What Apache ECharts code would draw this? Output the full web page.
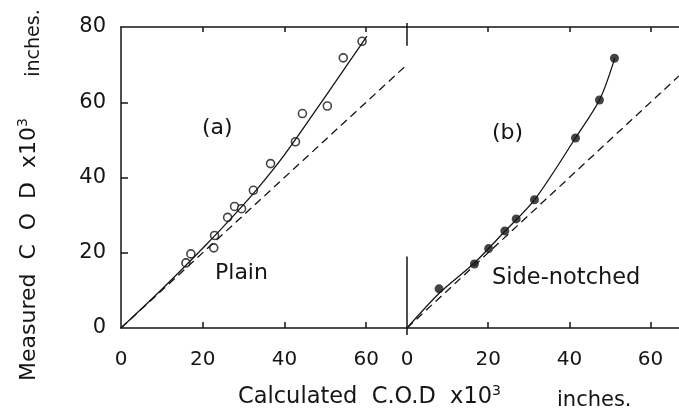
<!DOCTYPE html>
<html>
<head>
<meta charset="utf-8" />
<title>COD chart</title>
<script src="https://cdn.jsdelivr.net/npm/echarts@6/dist/echarts.min.js"></script>
<style>
  html, body { margin: 0; padding: 0; background: #fff; }
  #chart { width: 679px; height: 416px; }
</style>
</head>
<body>
<div id="chart"></div>
<script>
// tick labels
var xTicks = [0, 20, 40, 60];
var yTicks = [0, 20, 40, 60, 80];
var innerTicks = [20, 40, 60];

// (a) plain specimens - open circles
var plainCalc = [15.9, 17.1, 22.7, 22.9, 26.1, 27.8, 29.5, 32.4, 36.6, 42.7, 44.4, 50.5, 54.4, 59.0];
var plainMeas = [17.3, 19.7, 21.3, 24.6, 29.4, 32.3, 31.7, 36.6, 43.7, 49.5, 57.0, 59.0, 71.8, 76.2];
// hand drawn curve through (a)
var plainCurveX = [0, 10, 20, 27, 33, 40, 50, 60.2];
var plainCurveY = [0, 10.3, 21.2, 29.2, 36.5, 46, 61.5, 77.6];

// (b) side-notched specimens - filled circles
var notchCalc = [7.9, 16.6, 20.1, 24.1, 26.9, 31.4, 41.5, 47.4, 51.1];
var notchMeas = [10.4, 17.0, 21.1, 25.8, 29.0, 34.1, 50.5, 60.6, 71.7];
var notchCurveX = [0, 8, 16.5, 24, 31.5, 41.5, 47.5, 51.2];
var notchCurveY = [0, 9.3, 17.2, 25.6, 34.2, 50.5, 60.8, 71.8];

// 1:1 line (measured = calculated)
var equalA = [0, 70];
var equalB = [0, 67];

function pairs(xs, ys) {
	return xs.map(function (x, i) { return [x, ys[i]]; });
}

var font = 'DejaVu Sans';
var ink = '#151515';
var supStyle = { fontSize: 14, fontFamily: font, verticalAlign: 'top', lineHeight: 14 };

function bottomAxis(grid, max) {
	return {
		type: 'value', gridIndex: grid, position: 'bottom', min: 0, max: max, interval: 20,
		axisLine: { show: true, lineStyle: { color: ink, width: 1.5 } },
		axisTick: { show: true, inside: true, length: 6, customValues: innerTicks, lineStyle: { color: ink, width: 1.5 } },
		axisLabel: { customValues: xTicks, margin: 22, fontSize: 20, color: ink, fontFamily: font },
		splitLine: { show: false }
	};
}
function topAxis(grid, max) {
	return {
		type: 'value', gridIndex: grid, position: 'top', min: 0, max: max, interval: 20,
		axisLine: { show: true, lineStyle: { color: ink, width: 1.5 } },
		axisTick: { show: true, inside: true, length: 5, customValues: innerTicks, lineStyle: { color: ink, width: 1.5 } },
		axisLabel: { show: false },
		splitLine: { show: false }
	};
}
// short outer stubs of the divider between the panels
function stubAxis(pos, len) {
	return {
		type: 'value', gridIndex: 1, position: pos, min: 0, max: equalB[1],
		axisLine: { show: false },
		axisTick: { show: true, inside: false, length: len, customValues: [0], lineStyle: { color: ink, width: 1.5 } },
		axisLabel: { show: false },
		splitLine: { show: false }
	};
}

var chart = echarts.init(document.getElementById('chart'), null, { renderer: 'canvas' });
chart.setOption({
	backgroundColor: '#fff',
	animation: false,
	grid: [
		{ left: 121, top: 27, width: 286, height: 301 },
		{ left: 407, top: 27, width: 272, height: 301 }
	],
	xAxis: [
		bottomAxis(0, equalA[1]),
		topAxis(0, equalA[1]),
		bottomAxis(1, equalB[1]),
		topAxis(1, equalB[1]),
		stubAxis('bottom', 7),
		stubAxis('top', 4)
	],
	yAxis: [
		{
			type: 'value', gridIndex: 0, min: 0, max: 80, interval: 20,
			axisLine: { show: true, lineStyle: { color: ink, width: 1.5 } },
			axisTick: { show: true, inside: true, length: 7, customValues: innerTicks, lineStyle: { color: ink, width: 1.5 } },
			axisLabel: { customValues: yTicks, margin: 15, fontSize: 21, color: ink, fontFamily: font },
			splitLine: { show: false }
		},
		{
			type: 'value', gridIndex: 1, min: 0, max: 80, show: false
		}
	],
	graphic: [
		{ type: 'text', left: 202, top: 117, style: { text: '(a)', font: '22px "DejaVu Sans"', fill: ink } },
		{ type: 'text', left: 492, top: 122, style: { text: '(b)', font: '22px "DejaVu Sans"', fill: ink } },
		{ type: 'text', left: 215, top: 262, style: { text: 'Plain', font: '22px "DejaVu Sans"', fill: ink } },
		{ type: 'text', left: 492, top: 267, style: { text: 'Side-notched', font: '22.5px "DejaVu Sans"', fill: ink } },
		{
			type: 'text', x: 29, y: 381, rotation: Math.PI / 2,
			style: {
				text: 'Measured  C  O  D  x10{s|3}', font: '22px "DejaVu Sans"', fill: ink,
				align: 'left', verticalAlign: 'middle', lineHeight: 26, rich: { s: supStyle }
			}
		},
		{
			type: 'text', x: 34, y: 43, rotation: Math.PI / 2,
			style: { text: 'inches.', font: '19px "DejaVu Sans"', fill: ink, align: 'center', verticalAlign: 'middle' }
		},
		{
			type: 'text', x: 238, y: 397,
			style: {
				text: 'Calculated  C.O.D  x10{s|3}', font: '22.5px "DejaVu Sans"', fill: ink,
				verticalAlign: 'middle', lineHeight: 26, rich: { s: supStyle }
			}
		},
		{
			type: 'text', x: 557, y: 401,
			style: { text: 'inches.', font: '21px "DejaVu Sans"', fill: ink, verticalAlign: 'middle' }
		}
	],
	series: [
		{
			name: 'Plain 1:1', type: 'line', xAxisIndex: 0, yAxisIndex: 0,
			data: pairs(equalA, equalA), symbol: 'none', silent: true,
			lineStyle: { color: ink, width: 1.3, type: [8, 5] }
		},
		{
			name: 'Plain curve', type: 'line', xAxisIndex: 0, yAxisIndex: 0,
			data: pairs(plainCurveX, plainCurveY), smooth: 0.3, symbol: 'none', silent: true,
			lineStyle: { color: ink, width: 1.3 }
		},
		{
			name: 'Plain', type: 'scatter', xAxisIndex: 0, yAxisIndex: 0,
			data: pairs(plainCalc, plainMeas), symbol: 'circle', symbolSize: 8,
			itemStyle: { color: '#fff', borderColor: ink, borderWidth: 1.6 }
		},
		{
			name: 'Side-notched 1:1', type: 'line', xAxisIndex: 2, yAxisIndex: 1,
			data: pairs(equalB, equalB), symbol: 'none', silent: true,
			lineStyle: { color: ink, width: 1.3, type: [8, 5] },
			markLine: {
				silent: true, symbol: 'none', label: { show: false },
				lineStyle: { color: ink, width: 1.5, type: 'solid' },
				data: [
					[{ coord: [0, 0] }, { coord: [0, 19] }],
					[{ coord: [0, 75] }, { coord: [0, 80] }]
				]
			}
		},
		{
			name: 'Side-notched curve', type: 'line', xAxisIndex: 2, yAxisIndex: 1,
			data: pairs(notchCurveX, notchCurveY), smooth: 0.3, symbol: 'none', silent: true,
			lineStyle: { color: ink, width: 1.3 }
		},
		{
			name: 'Side-notched', type: 'scatter', xAxisIndex: 2, yAxisIndex: 1,
			data: pairs(notchCalc, notchMeas), symbol: 'circle', symbolSize: 9,
			itemStyle: { color: ink }
		}
	]
});
</script>
</body>
</html>
